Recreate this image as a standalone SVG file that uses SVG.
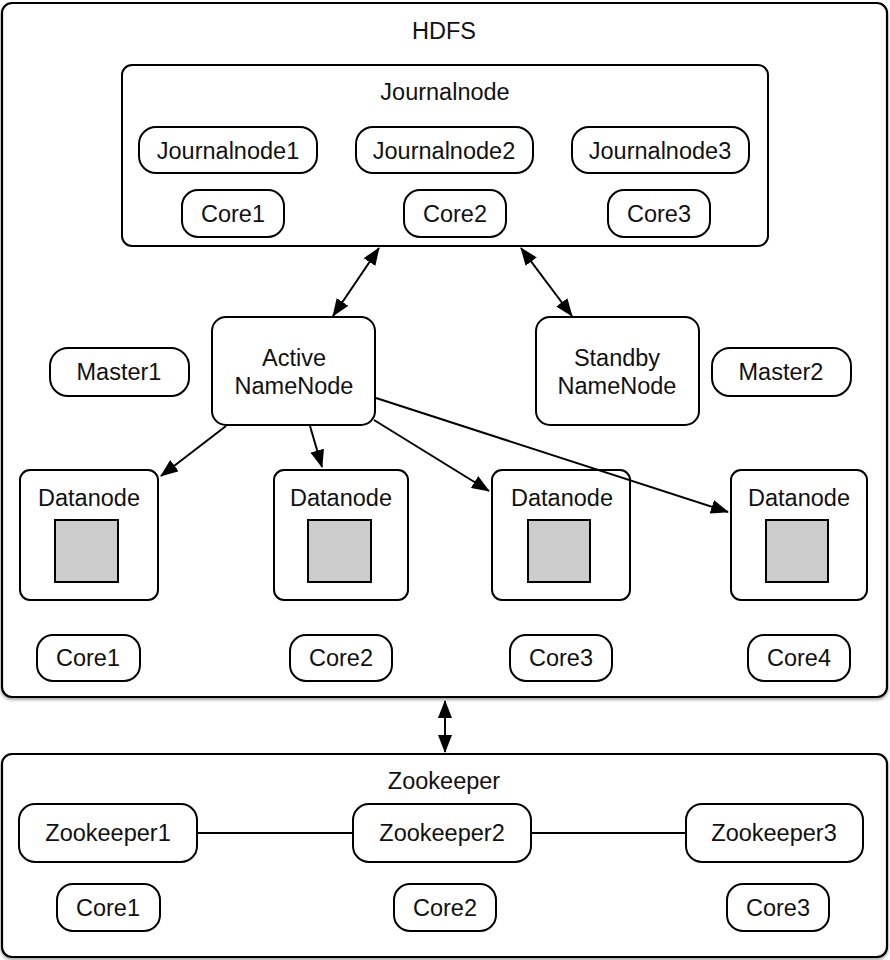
<svg xmlns="http://www.w3.org/2000/svg" width="890" height="960" viewBox="0 0 890 960">
  <style>
    .box { fill: #ffffff; stroke: #000000; stroke-width: 2; }
    .frame { fill: #ffffff; stroke: #000000; stroke-width: 2.2; filter: url(#shadow); }
    .store { fill: #cccccc; stroke: #000000; stroke-width: 2; }
    .lbl { font-family: "Liberation Sans", Arial, sans-serif; font-size: 23.5px; fill: #111111; text-anchor: middle; }
    .edge { fill: none; stroke: #000000; stroke-width: 2; }
  </style>
  <defs>
    <filter id="shadow" x="-5%" y="-5%" width="110%" height="110%">
      <feDropShadow dx="0" dy="2" stdDeviation="1.5" flood-color="#000000" flood-opacity="0.35"/>
    </filter>
    <marker id="head" viewBox="0 0 18 14" refX="17" refY="7" markerWidth="18" markerHeight="14" markerUnits="userSpaceOnUse" orient="auto-start-reverse">
      <path d="M0,0 L18,7 L0,14 Z" fill="#000000"/>
    </marker>
  </defs>

  <!-- HDFS cluster frame -->
  <g id="hdfs">
    <rect class="frame" x="2" y="3" width="885" height="694" rx="10"/>
    <text class="lbl" x="444" y="39">HDFS</text>
  </g>

  <!-- Journalnode quorum -->
  <g id="journalnode">
    <rect class="box" x="122" y="65" width="646" height="181" rx="10"/>
    <text class="lbl" x="445" y="100">Journalnode</text>
  </g>
  <g id="journalnode1">
    <rect class="box" x="139" y="127" width="178" height="46" rx="17"/>
    <text class="lbl" x="228" y="159">Journalnode1</text>
  </g>
  <g id="journalnode2">
    <rect class="box" x="356" y="127" width="177" height="46" rx="17"/>
    <text class="lbl" x="444" y="159">Journalnode2</text>
  </g>
  <g id="journalnode3">
    <rect class="box" x="572" y="127" width="177" height="46" rx="17"/>
    <text class="lbl" x="660" y="159">Journalnode3</text>
  </g>
  <g id="jn-core1">
    <rect class="box" x="182" y="190" width="102" height="47" rx="16"/>
    <text class="lbl" x="233" y="222">Core1</text>
  </g>
  <g id="jn-core2">
    <rect class="box" x="404" y="190" width="102" height="47" rx="16"/>
    <text class="lbl" x="455" y="222">Core2</text>
  </g>
  <g id="jn-core3">
    <rect class="box" x="608" y="190" width="102" height="47" rx="16"/>
    <text class="lbl" x="659" y="222">Core3</text>
  </g>

  <!-- NameNodes and masters -->
  <g id="master1">
    <rect class="box" x="50" y="348" width="139" height="48" rx="18"/>
    <text class="lbl" x="119" y="380">Master1</text>
  </g>
  <g id="active-namenode">
    <rect class="box" x="212" y="317" width="163" height="108" rx="14"/>
    <text class="lbl" x="294" y="366">Active</text>
    <text class="lbl" x="294" y="394">NameNode</text>
  </g>
  <g id="standby-namenode">
    <rect class="box" x="536" y="317" width="163" height="108" rx="14"/>
    <text class="lbl" x="617" y="366">Standby</text>
    <text class="lbl" x="617" y="394">NameNode</text>
  </g>
  <g id="master2">
    <rect class="box" x="712" y="348" width="139" height="48" rx="18"/>
    <text class="lbl" x="781" y="380">Master2</text>
  </g>

  <!-- Datanodes -->
  <g id="datanode1">
    <rect class="box" x="20" y="470" width="138" height="130" rx="10"/>
    <text class="lbl" x="89" y="506">Datanode</text>
    <rect class="store" x="55" y="520" width="63" height="62"/>
  </g>
  <g id="datanode2">
    <rect class="box" x="274" y="470" width="134" height="130" rx="10"/>
    <text class="lbl" x="341" y="506">Datanode</text>
    <rect class="store" x="308" y="520" width="63" height="62"/>
  </g>
  <g id="datanode3">
    <rect class="box" x="492" y="470" width="138" height="130" rx="10"/>
    <text class="lbl" x="562" y="506">Datanode</text>
    <rect class="store" x="528" y="520" width="62" height="62"/>
  </g>
  <g id="datanode4">
    <rect class="box" x="731" y="470" width="136" height="130" rx="10"/>
    <text class="lbl" x="799" y="506">Datanode</text>
    <rect class="store" x="766" y="520" width="62" height="62"/>
  </g>
  <g id="dn-core1">
    <rect class="box" x="37" y="635" width="103" height="46" rx="16"/>
    <text class="lbl" x="88" y="666">Core1</text>
  </g>
  <g id="dn-core2">
    <rect class="box" x="290" y="635" width="102" height="46" rx="16"/>
    <text class="lbl" x="341" y="666">Core2</text>
  </g>
  <g id="dn-core3">
    <rect class="box" x="510" y="635" width="102" height="46" rx="16"/>
    <text class="lbl" x="561" y="666">Core3</text>
  </g>
  <g id="dn-core4">
    <rect class="box" x="748" y="635" width="102" height="46" rx="16"/>
    <text class="lbl" x="799" y="666">Core4</text>
  </g>

  <!-- Zookeeper ensemble -->
  <g id="zookeeper">
    <rect class="frame" x="2" y="754" width="885" height="203" rx="10"/>
    <text class="lbl" x="444" y="789">Zookeeper</text>
  </g>
  <g id="connectors">
    <line class="edge" x1="379" y1="248" x2="333" y2="316" marker-start="url(#head)" marker-end="url(#head)"/>
    <line class="edge" x1="521" y1="248" x2="572" y2="316" marker-start="url(#head)" marker-end="url(#head)"/>
    <line class="edge" x1="226" y1="426" x2="161" y2="476" marker-end="url(#head)"/>
    <line class="edge" x1="310" y1="426" x2="322" y2="467" marker-end="url(#head)"/>
    <line class="edge" x1="374" y1="420" x2="489" y2="491" marker-end="url(#head)"/>
    <line class="edge" x1="376" y1="398" x2="728" y2="512" marker-end="url(#head)"/>
    <line class="edge" x1="445" y1="701" x2="445" y2="752" marker-start="url(#head)" marker-end="url(#head)"/>
    <line class="edge" x1="197" y1="833" x2="353" y2="833"/>
    <line class="edge" x1="531" y1="833" x2="686" y2="833"/>
  </g>
  <g id="zookeeper1">
    <rect class="box" x="19" y="804" width="178" height="58" rx="16"/>
    <text class="lbl" x="108" y="841">Zookeeper1</text>
  </g>
  <g id="zookeeper2">
    <rect class="box" x="353" y="804" width="178" height="58" rx="16"/>
    <text class="lbl" x="442" y="841">Zookeeper2</text>
  </g>
  <g id="zookeeper3">
    <rect class="box" x="686" y="804" width="177" height="58" rx="16"/>
    <text class="lbl" x="774" y="841">Zookeeper3</text>
  </g>
  <g id="zk-core1">
    <rect class="box" x="57" y="884" width="103" height="47" rx="16"/>
    <text class="lbl" x="108" y="916">Core1</text>
  </g>
  <g id="zk-core2">
    <rect class="box" x="394" y="884" width="102" height="47" rx="16"/>
    <text class="lbl" x="445" y="916">Core2</text>
  </g>
  <g id="zk-core3">
    <rect class="box" x="727" y="884" width="102" height="47" rx="16"/>
    <text class="lbl" x="778" y="916">Core3</text>
  </g>
</svg>
